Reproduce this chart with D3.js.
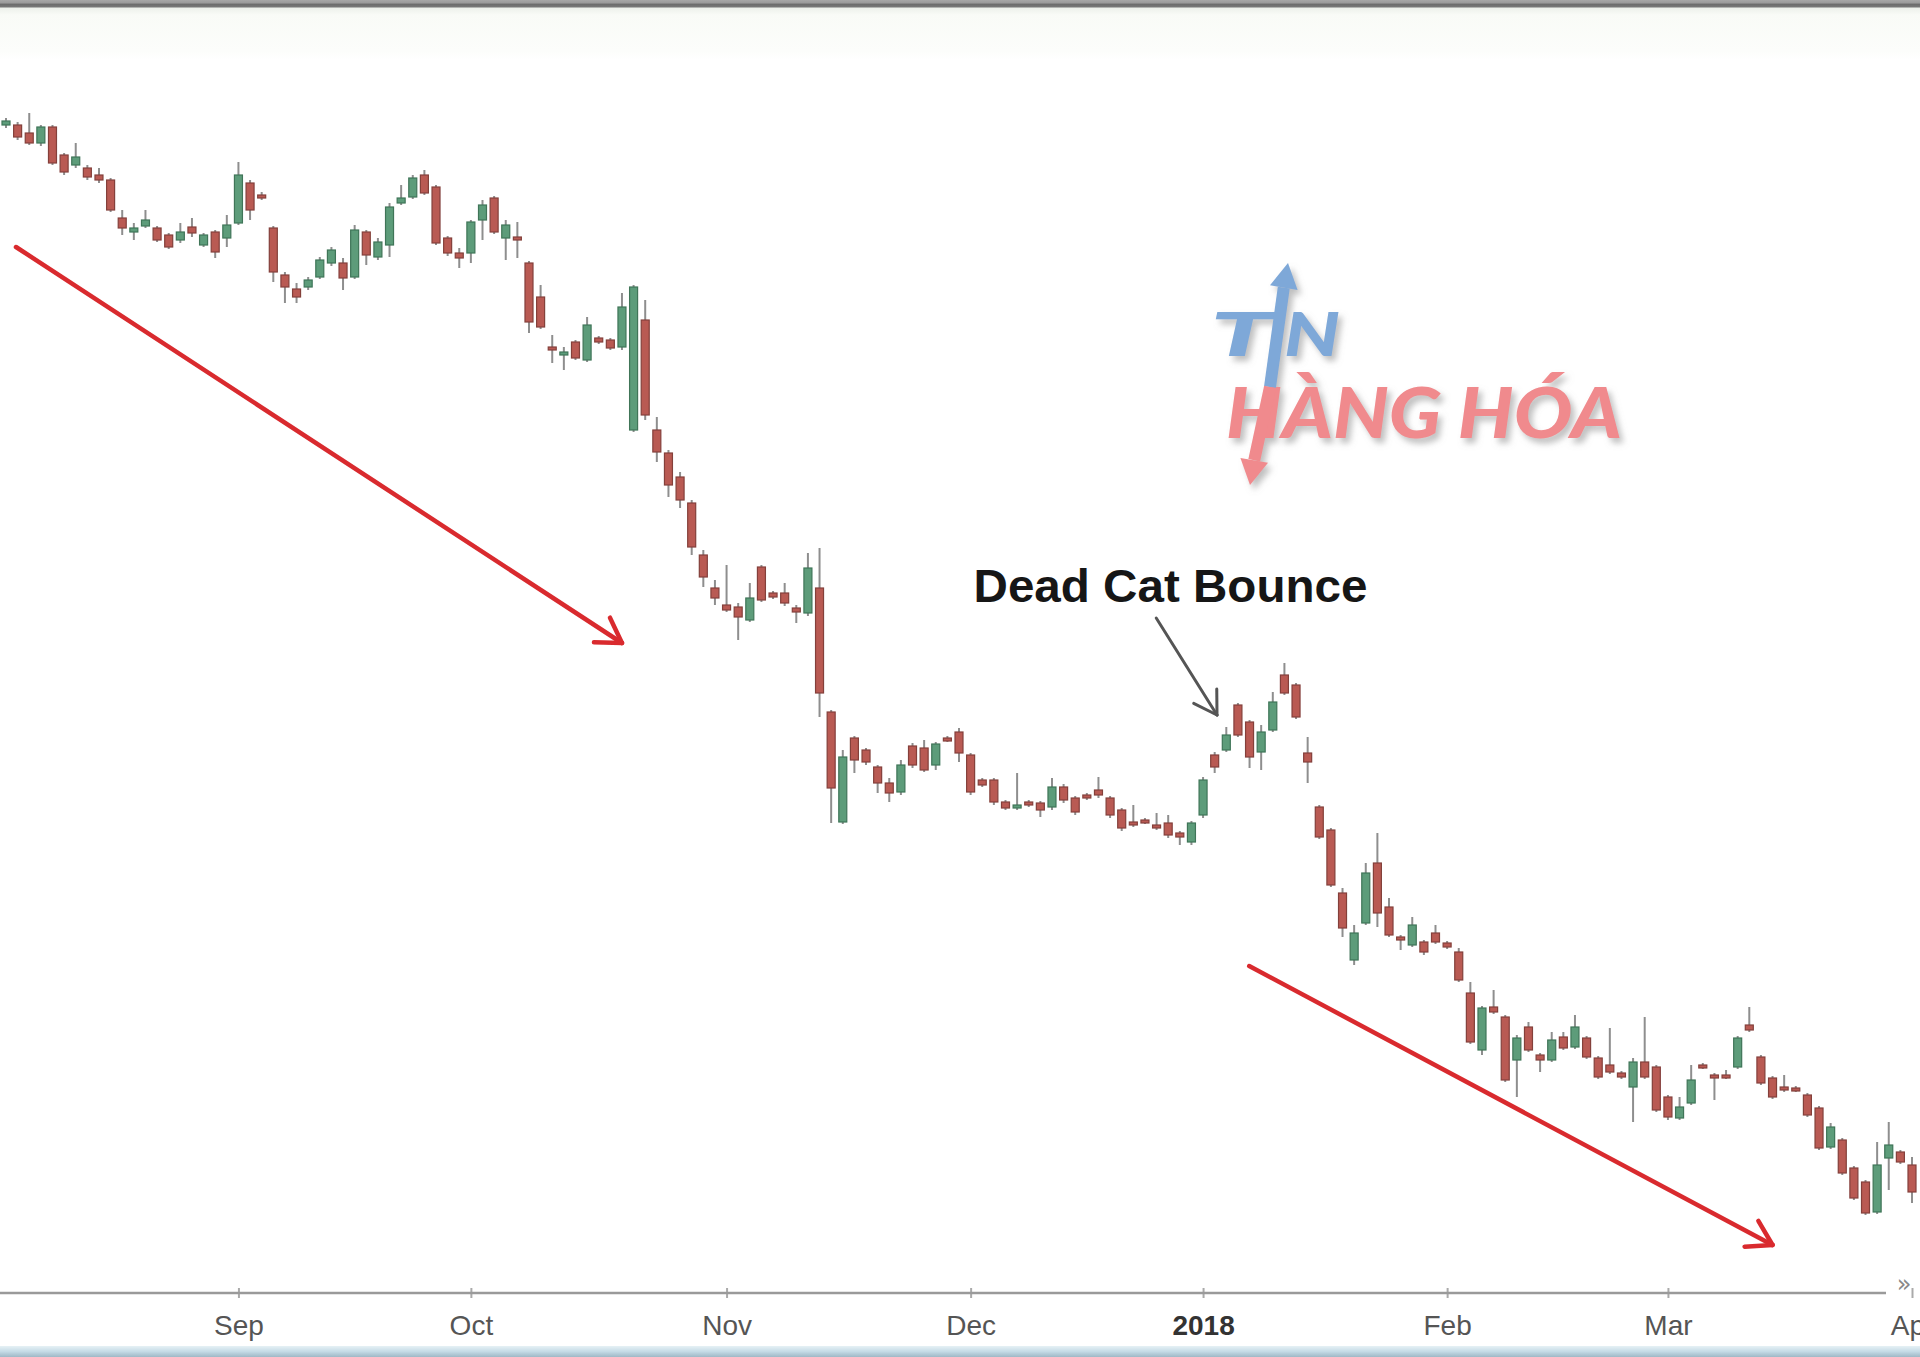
<!DOCTYPE html>
<html><head><meta charset="utf-8">
<script src="https://cdn.jsdelivr.net/npm/d3@7"></script>
<style>html,body{margin:0;padding:0;background:#fff;overflow:hidden}</style>
</head><body><svg id="c" width="1920" height="1357"></svg>
<script>
// ---- data (OHLC, trading days from 2017-08-04) ----
const openP = [78.75,78.75,78.35,77.85,78.65,77.25,76.75,76.6,76.25,76.0,
74.1,73.4,73.7,73.6,73.25,73.0,73.65,72.75,73.4,73.1,
73.85,75.85,75.25,73.6,71.25,70.55,70.65,71.15,71.85,71.85,
71.15,73.4,72.15,72.75,74.85,75.15,76.25,75.65,73.1,72.35,
72.35,74.0,75.1,73.1,73.15,71.85,70.15,67.65,67.25,67.9,
67.0,68.1,68.0,67.65,63.5,69.0,63.5,62.35,61.15,59.85,
57.25,55.6,54.75,54.65,54.0,56.65,55.35,55.35,54.6,54.35,
55.6,49.4,43.9,48.1,47.5,46.65,45.85,45.4,47.7,47.6,
46.75,48.1,48.4,47.25,46.0,46.0,44.9,44.6,44.9,44.85,
44.65,45.65,45.1,45.25,45.5,45.1,44.5,43.9,44.0,43.75,
43.85,43.35,42.9,44.25,47.25,47.5,49.75,48.9,47.4,48.5,
51.25,50.75,47.35,44.65,43.5,40.35,37.0,38.85,41.85,39.65,
38.15,37.75,37.9,38.35,37.85,37.4,35.35,32.5,34.65,34.15,
32.0,33.65,32.25,32.0,33.15,32.65,33.1,32.1,31.75,31.35,
30.65,31.9,31.65,30.15,29.1,29.85,31.75,31.25,31.25,31.65,
33.75,32.15,31.1,30.65,30.6,30.25,29.6,27.65,28.0,26.6,
25.9,24.4,27.1,27.4,26.75];
const highP = [79.1,78.9,79.35,78.75,78.75,77.35,77.85,76.75,76.6,76.1,
74.5,73.85,74.5,73.7,73.35,73.85,74.1,73.35,73.5,74.25,
76.9,76.0,75.4,73.7,71.4,70.85,71.15,72.15,72.65,72.1,
73.75,73.5,73.1,74.85,75.75,76.25,76.5,75.75,73.2,72.6,
74.0,75.0,75.2,74.0,73.9,71.95,70.75,68.25,67.65,68.0,
69.15,68.2,68.1,70.35,70.75,70.0,64.15,62.5,61.4,60.0,
57.5,56.0,56.75,54.85,55.85,56.75,55.45,55.85,54.75,57.35,
57.6,49.5,47.5,48.2,47.6,46.75,46.1,47.0,47.85,48.0,
47.9,48.2,48.6,47.35,46.1,46.1,45.0,46.35,45.0,44.95,
46.1,45.8,45.2,45.35,46.15,45.2,44.6,44.75,44.1,44.35,
44.25,43.45,43.95,46.15,47.4,48.65,49.85,49.0,48.75,50.4,
51.85,50.85,48.15,44.75,43.6,40.6,38.75,41.85,43.35,40.1,
38.25,39.15,38.0,38.75,37.95,37.6,35.9,34.7,35.5,34.25,
33.25,33.9,32.35,33.4,33.4,34.25,33.2,32.2,33.6,31.45,
32.1,34.15,31.75,30.25,30.15,31.75,31.85,31.35,31.5,33.2,
34.65,32.25,31.2,31.25,30.7,30.35,29.7,28.85,28.1,26.7,
26.0,27.9,28.9,27.5,27.15];
const lowP = [78.6,78.0,77.75,77.7,76.75,76.25,76.6,76.0,75.85,74.4,
73.25,73.0,73.6,72.9,72.55,72.85,73.15,72.65,72.1,72.65,
73.75,74.0,75.0,70.9,69.85,69.85,70.5,71.05,71.7,70.5,
71.05,71.75,72.0,72.15,74.75,75.05,75.25,72.75,72.2,71.6,
71.85,73.0,73.3,72.0,72.1,68.35,68.55,66.85,66.5,67.0,
66.9,67.8,67.5,67.5,63.4,64.0,61.9,60.15,59.6,57.25,
55.65,54.75,54.4,53.0,53.9,54.9,55.05,54.7,53.85,54.2,
49.15,43.85,43.8,46.35,46.75,45.35,44.9,45.25,46.6,46.4,
46.5,47.9,46.9,45.25,45.65,44.75,44.5,44.5,44.65,44.15,
44.5,44.85,44.25,45.0,45.1,44.1,43.45,43.65,43.8,43.5,
43.1,42.75,42.75,44.1,46.35,47.4,48.15,46.6,46.5,48.4,
50.25,49.05,45.85,43.05,40.65,38.15,36.75,38.75,38.65,38.15,
37.5,37.65,37.25,37.8,37.55,35.9,32.8,32.25,34.3,30.9,
30.15,32.4,31.4,31.9,32.5,32.55,32.05,31.05,31.3,31.05,
28.9,31.05,29.4,29.0,29.0,29.75,31.55,30.0,31.05,31.55,
33.4,30.75,30.05,30.4,30.4,29.15,27.5,27.55,26.25,25.0,
24.25,24.3,25.5,26.8,24.85];
const closeP = [78.95,78.15,77.85,78.65,76.85,76.4,77.15,76.15,76.0,74.5,
73.6,73.6,74.0,73.0,72.65,73.4,73.35,73.25,72.4,73.75,
76.25,74.5,75.1,71.4,70.65,70.15,71.0,72.0,72.5,71.1,
73.5,72.25,72.9,74.65,75.1,76.1,75.35,72.85,72.35,72.1,
73.9,74.75,73.4,73.75,73.0,68.9,68.65,67.5,67.4,67.1,
68.75,67.9,67.6,69.65,70.65,64.25,62.4,60.75,60.0,57.65,
56.15,55.1,54.5,54.15,55.1,55.0,55.15,54.85,54.4,56.6,
50.35,45.6,47.15,47.0,46.9,45.85,45.35,46.75,46.75,46.5,
47.8,48.0,47.35,45.4,45.75,44.9,44.6,44.75,44.75,44.5,
45.65,45.0,44.4,45.1,45.25,44.25,43.6,43.75,43.9,43.6,
43.25,43.15,43.85,46.0,46.65,48.25,48.25,47.15,48.4,49.9,
50.35,49.15,46.9,43.15,40.75,38.6,38.35,41.35,39.35,38.25,
38.1,38.75,37.4,37.9,37.65,36.0,32.9,34.6,34.4,31.0,
33.1,32.5,32.0,33.0,32.6,33.65,32.15,31.15,31.4,31.15,
31.9,31.15,29.5,29.15,29.65,31.0,31.65,31.15,31.15,33.1,
33.5,30.85,30.15,30.5,30.5,29.25,27.6,28.65,26.35,25.1,
24.35,26.75,27.75,26.9,25.4];
const monthLabels = ["Aug","Sep","Oct","Nov","Dec","2018","Feb","Mar","Apr"];
const holidays = ["2017-09-04","2017-11-23","2017-12-25","2018-01-01","2018-01-15","2018-02-19","2018-03-30"];
const firstCandleDate = "2017-08-04";
const annotationText = "Dead Cat Bounce";

// ---- trading-day calendar ----
const fmt = d3.timeFormat("%Y-%m-%d");
const allDates = d3.timeDay.range(new Date(2017,7,1), new Date(2018,3,3))
  .filter(d => d.getDay() > 0 && d.getDay() < 6 && !holidays.includes(fmt(d)));
const startIdx = allDates.findIndex(d => fmt(d) === firstCandleDate);
const candles = openP.map((o,i) => ({i: startIdx + i, date: allDates[startIdx+i], o, h: highP[i], l: lowP[i], c: closeP[i]}));
const tickIdx = allDates.map((d,i) => (i === 0 || d.getMonth() !== allDates[i-1].getMonth()) ? i : -1).filter(i => i >= 0);

const W = 1920, H = 1357;
const svg = d3.select("#c");
const x = d3.scaleLinear().domain([startIdx, startIdx + openP.length - 1]).range([6, 1912]);
const y = d3.scaleLinear().domain([20, 80]).range([1300, 100]);

const defs = svg.append("defs");
const tg = defs.append("linearGradient").attr("id","topg").attr("x1",0).attr("x2",0).attr("y1",0).attr("y2",1);
[["0%","#a8a8a8"],["5%","#9a9a9a"],["7%","#6c6c6c"],["11%","#777"],["14%","#eef2ec"],["25%","#f9fbf7"],["85%","#fcfdfb"],["100%","#ffffff"]]
  .forEach(s => tg.append("stop").attr("offset",s[0]).attr("stop-color",s[1]));
const bg = defs.append("linearGradient").attr("id","botg").attr("x1",0).attr("x2",0).attr("y1",0).attr("y2",1);
[["0%","#e6f1f5"],["50%","#c5dbe6"],["100%","#9fb8c6"]].forEach(s => bg.append("stop").attr("offset",s[0]).attr("stop-color",s[1]));
const sh = defs.append("filter").attr("id","shadow").attr("x","-20%").attr("y","-20%").attr("width","140%").attr("height","140%");
sh.append("feDropShadow").attr("dx",4).attr("dy",5).attr("stdDeviation",3).attr("flood-color","#8a8a8a").attr("flood-opacity",0.55);
const soft = defs.append("filter").attr("id","soft");
soft.append("feGaussianBlur").attr("stdDeviation",0.6);

svg.append("rect").attr("width",W).attr("height",H).attr("fill","#fff");
svg.append("rect").attr("x",0).attr("y",0).attr("width",W).attr("height",60).attr("fill","url(#topg)");
svg.append("rect").attr("x",0).attr("y",1346).attr("width",W).attr("height",11).attr("fill","url(#botg)");

// ---- watermark logo ----
const logo = svg.append("g").attr("filter","url(#shadow)");
const blue = "#7ea8d8", pink = "#f08a8d";
const lf = "Lato, Roboto, 'Open Sans', sans-serif";
logo.append("text").attr("x",1210).attr("y",356).attr("font-family",lf).attr("font-weight",900).attr("font-style","italic")
  .attr("font-size",60).attr("fill",blue).attr("textLength",62).attr("lengthAdjust","spacingAndGlyphs").text("T");
logo.append("text").attr("x",1284).attr("y",356).attr("font-family",lf).attr("font-weight",900).attr("font-style","italic")
  .attr("font-size",60).attr("fill",blue).attr("textLength",56).attr("lengthAdjust","spacingAndGlyphs").text("N");
logo.append("text").attr("x",1226).attr("y",438).attr("font-family",lf).attr("font-weight",900).attr("font-style","italic")
  .attr("font-size",70).attr("fill",pink).attr("textLength",396).attr("lengthAdjust","spacingAndGlyphs").text("HÀNG HÓA");
// arrow through the "I"
const aTop = [1288,263], aBot = [1250,485], aMid = [1270,387];
const ux = (aTop[0]-aBot[0]), uy = (aTop[1]-aBot[1]); const ul = Math.hypot(ux,uy);
const u = [ux/ul, uy/ul], pp = [-u[1], u[0]];
const headL = 25, headW = 14;
function head(tip, dir, col){
  const b = [tip[0]-dir[0]*headL, tip[1]-dir[1]*headL];
  logo.append("path").attr("d",`M${tip[0]},${tip[1]}L${b[0]+pp[0]*headW},${b[1]+pp[1]*headW}L${b[0]-pp[0]*headW},${b[1]-pp[1]*headW}Z`).attr("fill",col);
  return b;
}
const bTop = head(aTop, u, blue);
const bBot = head(aBot, [-u[0],-u[1]], pink);
logo.append("line").attr("x1",aMid[0]).attr("y1",aMid[1]).attr("x2",bTop[0]).attr("y2",bTop[1]).attr("stroke",blue).attr("stroke-width",12);
logo.append("line").attr("x1",aMid[0]).attr("y1",aMid[1]).attr("x2",bBot[0]).attr("y2",bBot[1]).attr("stroke",pink).attr("stroke-width",12);

// ---- candles ----
const cg = svg.append("g").attr("filter","url(#soft)");
cg.selectAll("line.wick").data(candles).join("line").attr("class","wick")
  .attr("x1", d => x(d.i)).attr("x2", d => x(d.i))
  .attr("y1", d => y(d.h)).attr("y2", d => y(d.l))
  .attr("stroke","#8e8e8e").attr("stroke-width",2);
cg.selectAll("rect.body").data(candles).join("rect").attr("class","body")
  .attr("x", d => x(d.i) - 4).attr("width", 8)
  .attr("y", d => y(Math.max(d.o,d.c)))
  .attr("height", d => Math.max(3, Math.abs(y(d.o) - y(d.c))))
  .attr("fill", d => d.c >= d.o ? "#5d9c7a" : "#b95a53")
  .attr("stroke", d => d.c >= d.o ? "#3f7558" : "#84403b").attr("stroke-width",1.2);

// ---- x axis ----
const axisY = 1288;
const ax = svg.append("g").attr("transform",`translate(0,${axisY})`)
  .call(d3.axisBottom(x).tickValues(tickIdx).tickFormat((d,i) => monthLabels[i]).tickSize(10).tickPadding(17));
ax.select(".domain").remove();
ax.selectAll(".tick line").attr("stroke","#aaa").attr("stroke-width",2);
ax.selectAll(".tick text").attr("font-family","'Liberation Sans', Arial, sans-serif").attr("font-size",28)
  .attr("font-weight", (d,i) => monthLabels[i] === "2018" ? "bold" : "normal")
  .attr("fill", (d,i) => monthLabels[i] === "2018" ? "#333" : "#555");
svg.append("line").attr("x1",0).attr("x2",1886).attr("y1",axisY+5).attr("y2",axisY+5).attr("stroke","#9a9a9a").attr("stroke-width",2.5);
svg.append("text").attr("x",1904).attr("y",1292).attr("text-anchor","middle").attr("font-family","'DejaVu Sans', sans-serif")
  .attr("font-size",24).attr("fill","#888").text("»");

// ---- annotations (data coordinates: trading-day index, price) ----
function arrow(g, p0, p1, col, sw, bl){
  const X0 = x(p0[0]), Y0 = y(p0[1]), X1 = x(p1[0]), Y1 = y(p1[1]);
  const a = Math.atan2(Y1-Y0, X1-X0);
  g.append("line").attr("x1",X0).attr("y1",Y0).attr("x2",X1).attr("y2",Y1).attr("stroke",col).attr("stroke-width",sw).attr("stroke-linecap","round");
  [Math.PI - 0.55, -(Math.PI - 0.55)].forEach(da => {
    g.append("line").attr("x1",X1).attr("y1",Y1).attr("x2",X1 + bl*Math.cos(a+da)).attr("y2",Y1 + bl*Math.sin(a+da))
      .attr("stroke",col).attr("stroke-width",sw).attr("stroke-linecap","round");
  });
}
const ag = svg.append("g").attr("filter","url(#soft)");
arrow(ag, [3.86, 72.65], [56.0, 52.85], "#d92b2f", 4.5, 28);
arrow(ag, [109.97, 36.7], [155.0, 22.75], "#d92b2f", 4.5, 28);
arrow(ag, [101.97, 54.1], [107.2, 49.25], "#555", 3, 26);
svg.append("text").attr("x", x(103.2)).attr("y", y(54.9)).attr("text-anchor","middle")
  .attr("font-family","'Liberation Sans', Arial, sans-serif").attr("font-weight","bold").attr("font-size",46)
  .attr("fill","#161616").attr("textLength",394).attr("lengthAdjust","spacingAndGlyphs").text(annotationText);
</script>
</body></html>
